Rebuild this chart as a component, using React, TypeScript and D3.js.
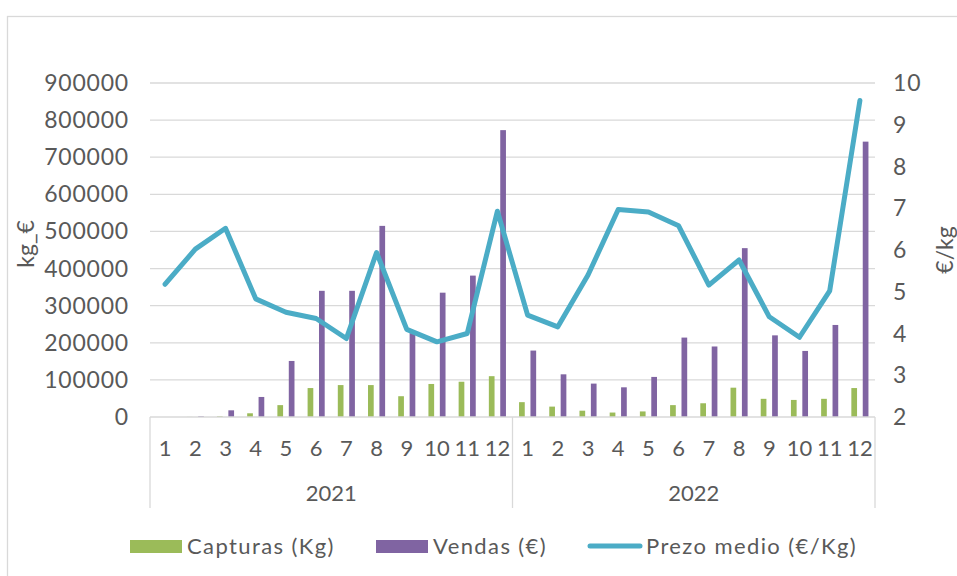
import * as d3 from "d3";
import { useEffect, useRef } from "react";

const months = ["1", "2", "3", "4", "5", "6", "7", "8", "9", "10", "11", "12"];
const years = ["2021", "2022"];

const capturas = [
  0, 300, 2000, 10000, 32000, 78000, 86000, 86000, 56000, 89000, 95000, 110000,
  40000, 28000, 17000, 12000, 15000, 32000, 37000, 79000, 49000, 46000, 49000, 78000,
];
const vendas = [
  0, 2000, 18000, 54000, 151000, 340000, 340000, 515000, 226000, 335000, 381000, 773000,
  179000, 115000, 90000, 80000, 108000, 214000, 190000, 455000, 220000, 178000, 248000, 742000,
];
const prezo = [
  5.18, 6.02, 6.52, 4.83, 4.51, 4.36, 3.88, 5.94, 4.1, 3.8, 4.0, 6.93,
  4.44, 4.16, 5.4, 6.97, 6.91, 6.58, 5.16, 5.76, 4.4, 3.91, 5.02, 9.58,
];

const leftTicks = [0, 100000, 200000, 300000, 400000, 500000, 600000, 700000, 800000, 900000];
const rightTicks = [2, 3, 4, 5, 6, 7, 8, 9, 10];

const GREEN = "#9bbb59";
const PURPLE = "#8064a2";
const BLUE = "#4bacc6";
const GRID = "#d9d9d9";
const TEXT = "#595959";
const FONT = "Lato, 'Noto Sans', sans-serif";

export default function App() {
  const ref = useRef<SVGSVGElement>(null);

  useEffect(() => {
    if (!ref.current) return;
    const svg = d3.select(ref.current);
    svg.selectAll("*").remove();

    const left = 150;
    const right = 875;
    const top = 83;
    const bottom = 417;

    const cats = years.flatMap((y) => months.map((m) => `${y}-${m}`));

    const x0 = d3.scaleBand<string>().domain(cats).range([left, right]);
    const x1 = d3
      .scaleBand<string>()
      .domain(["capturas", "vendas"])
      .range([0, x0.bandwidth()])
      .paddingInner(0.5)
      .paddingOuter(0.575);

    const yL = d3.scaleLinear().domain([0, 900000]).range([bottom, top]);
    const yR = d3.scaleLinear().domain([2, 10]).range([bottom, top]);

    // chart frame
    svg
      .append("rect")
      .attr("x", 7.5)
      .attr("y", 16.5)
      .attr("width", 1000)
      .attr("height", 700)
      .attr("fill", "none")
      .attr("stroke", GRID)
      .attr("stroke-width", 1.3);

    // gridlines
    svg
      .append("g")
      .selectAll("line")
      .data(leftTicks.filter((t) => t > 0))
      .enter()
      .append("line")
      .attr("x1", left)
      .attr("x2", right)
      .attr("y1", (d) => yL(d))
      .attr("y2", (d) => yL(d))
      .attr("stroke", GRID)
      .attr("stroke-width", 1.3);

    // left axis labels
    svg
      .append("g")
      .selectAll("text")
      .data(leftTicks)
      .enter()
      .append("text")
      .attr("x", 129)
      .attr("y", (d) => yL(d) + 8)
      .attr("text-anchor", "end")
      .attr("font-family", FONT)
      .attr("font-size", 23)
      .attr("letter-spacing", 0.8)
      .attr("fill", TEXT)
      .text((d) => String(d));

    // right axis labels
    svg
      .append("g")
      .selectAll("text")
      .data(rightTicks)
      .enter()
      .append("text")
      .attr("x", 893)
      .attr("y", (d) => yR(d) + 8)
      .attr("font-family", FONT)
      .attr("font-size", 23)
      .attr("letter-spacing", 0.8)
      .attr("fill", TEXT)
      .text((d) => String(d));

    // axis titles
    svg
      .append("text")
      .attr("transform", "translate(34,244) rotate(-90)")
      .attr("text-anchor", "middle")
      .attr("font-family", FONT)
      .attr("font-size", 23)
      .attr("fill", TEXT)
      .text("kg_€");
    svg
      .append("text")
      .attr("transform", "translate(953,250) rotate(-90)")
      .attr("text-anchor", "middle")
      .attr("font-family", FONT)
      .attr("font-size", 23)
      .attr("fill", TEXT)
      .text("€/kg");

    // bars
    const bars = svg.append("g");
    bars
      .selectAll(".cap")
      .data(capturas)
      .enter()
      .append("rect")
      .attr("x", (_, i) => (x0(cats[i]) ?? 0) + (x1("capturas") ?? 0))
      .attr("width", x1.bandwidth())
      .attr("y", (d) => yL(d))
      .attr("height", (d) => bottom - yL(d))
      .attr("fill", GREEN);
    bars
      .selectAll(".ven")
      .data(vendas)
      .enter()
      .append("rect")
      .attr("x", (_, i) => (x0(cats[i]) ?? 0) + (x1("vendas") ?? 0))
      .attr("width", x1.bandwidth())
      .attr("y", (d) => yL(d))
      .attr("height", (d) => bottom - yL(d))
      .attr("fill", PURPLE);

    // category axis line and group brackets
    svg
      .append("line")
      .attr("x1", left)
      .attr("x2", right)
      .attr("y1", bottom)
      .attr("y2", bottom)
      .attr("stroke", GRID)
      .attr("stroke-width", 1.3);
    const groupEdges = [left, x0(cats[12]) ?? 0, right];
    svg
      .append("g")
      .selectAll("line")
      .data(groupEdges)
      .enter()
      .append("line")
      .attr("x1", (d) => d)
      .attr("x2", (d) => d)
      .attr("y1", bottom)
      .attr("y2", 508)
      .attr("stroke", GRID)
      .attr("stroke-width", 1.3);

    svg
      .append("g")
      .selectAll("text")
      .data(cats)
      .enter()
      .append("text")
      .attr("x", (d) => (x0(d) ?? 0) + x0.bandwidth() / 2)
      .attr("y", 456)
      .attr("text-anchor", "middle")
      .attr("font-family", FONT)
      .attr("font-size", 22)
      .attr("fill", TEXT)
      .text((d) => d.split("-")[1]);

    svg
      .append("g")
      .selectAll("text")
      .data(years)
      .enter()
      .append("text")
      .attr("x", (_, i) => (groupEdges[i] + groupEdges[i + 1]) / 2)
      .attr("y", 501)
      .attr("text-anchor", "middle")
      .attr("font-family", FONT)
      .attr("font-size", 22)
      .attr("fill", TEXT)
      .text((d) => d);

    // price line
    const line = d3
      .line<number>()
      .x((_, i) => (x0(cats[i]) ?? 0) + x0.bandwidth() / 2)
      .y((d) => yR(d));
    svg
      .append("path")
      .datum(prezo)
      .attr("d", line)
      .attr("fill", "none")
      .attr("stroke", BLUE)
      .attr("stroke-width", 5)
      .attr("stroke-linejoin", "round")
      .attr("stroke-linecap", "round");

    // legend
    const legend = svg
      .append("g")
      .attr("font-family", FONT)
      .attr("font-size", 22)
      .attr("letter-spacing", 1.4)
      .attr("fill", TEXT);
    legend.append("rect").attr("x", 130).attr("y", 540).attr("width", 52).attr("height", 13).attr("fill", GREEN);
    legend.append("text").attr("x", 187).attr("y", 554).text("Capturas (Kg)");
    legend.append("rect").attr("x", 376).attr("y", 540).attr("width", 52).attr("height", 13).attr("fill", PURPLE);
    legend.append("text").attr("x", 433).attr("y", 554).text("Vendas (€)");
    legend
      .append("line")
      .attr("x1", 590)
      .attr("x2", 640)
      .attr("y1", 546)
      .attr("y2", 546)
      .attr("stroke", BLUE)
      .attr("stroke-width", 5)
      .attr("stroke-linecap", "round");
    legend.append("text").attr("x", 646).attr("y", 554).text("Prezo medio (€/Kg)");
  }, []);

  return (
    <div style={{ position: "absolute", left: 0, top: 0 }}>
      <svg ref={ref} width={957} height={576} style={{ display: "block" }} />
    </div>
  );
}
